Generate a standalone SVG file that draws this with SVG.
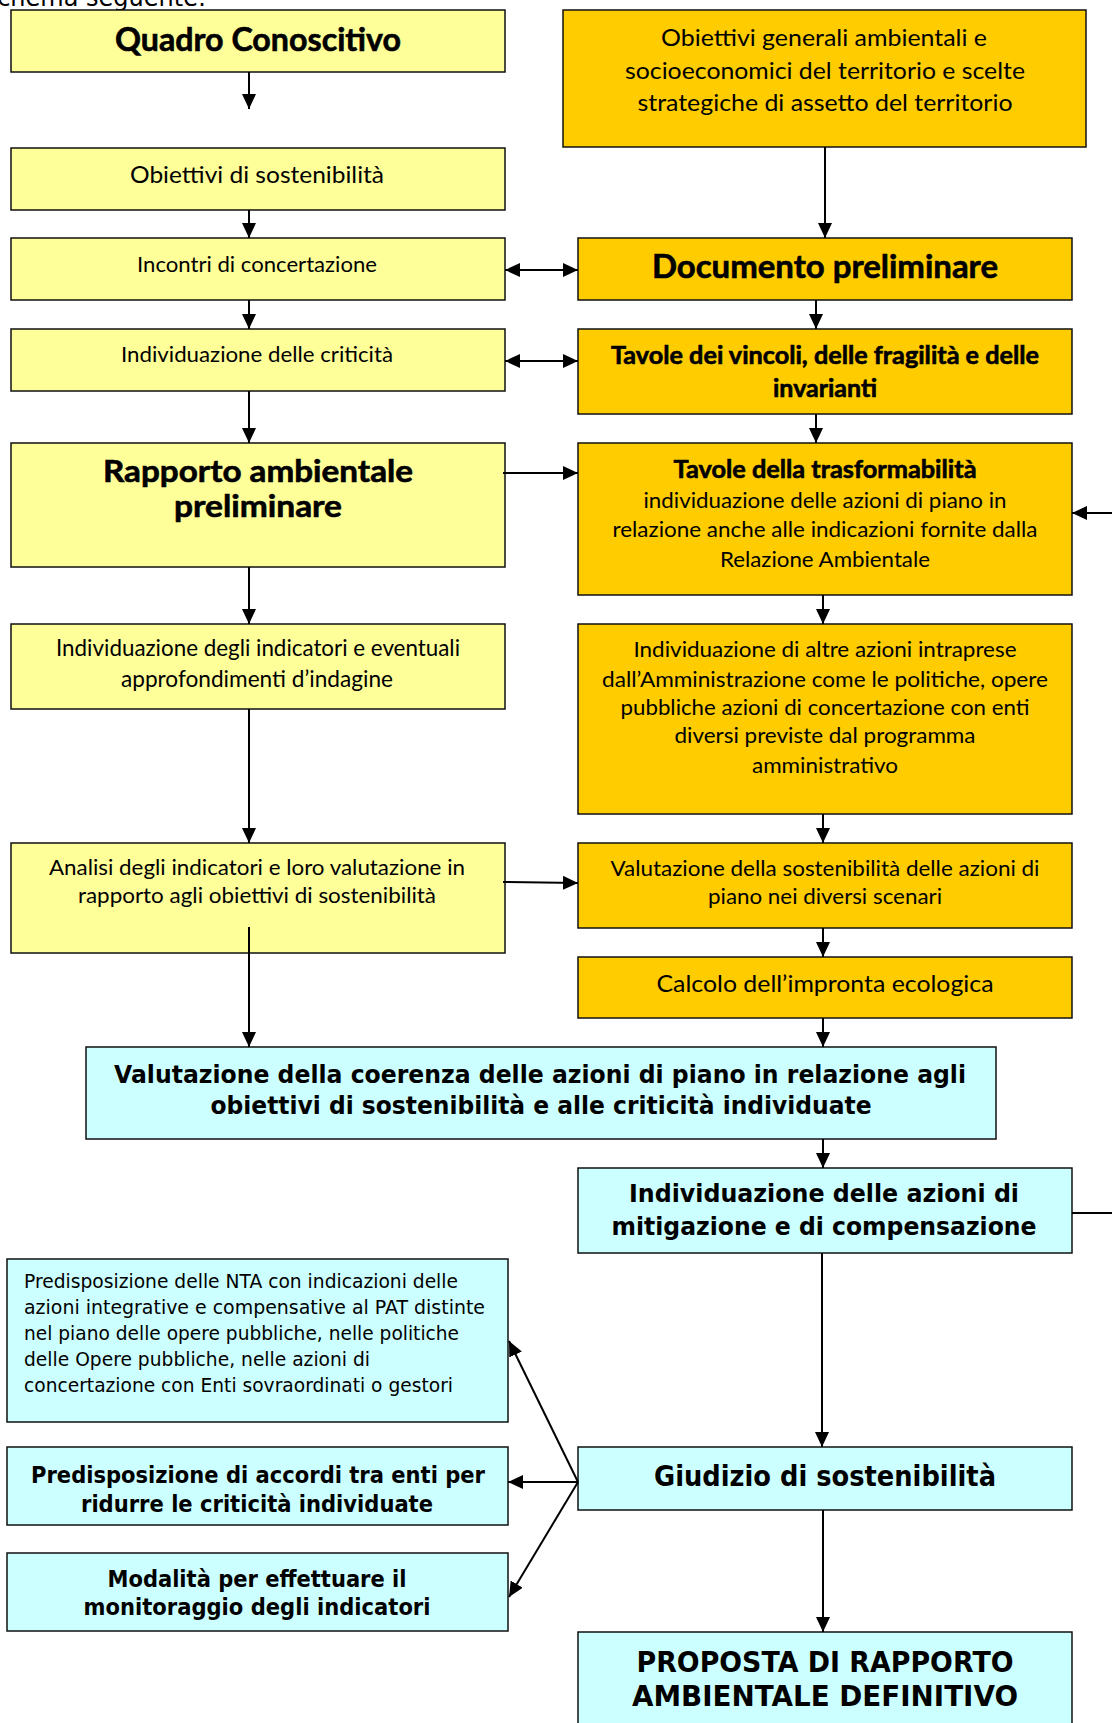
<svg xmlns="http://www.w3.org/2000/svg" width="1112" height="1723" viewBox="0 0 1112 1723">
<defs>
<marker id="ah" viewBox="0 0 15 14" refX="15" refY="7" markerWidth="15" markerHeight="14" markerUnits="userSpaceOnUse" orient="auto-start-reverse">
<path d="M0,0 L15,7 L0,14 z" fill="#000"/>
</marker>
<style>
.y{fill:#FFFF99;stroke:#111;stroke-width:1.5}
.o{fill:#FFCC00;stroke:#111;stroke-width:1.5}
.c{fill:#CCFFFF;stroke:#111;stroke-width:1.5}
.cal{font-family:Lato,"Liberation Sans",sans-serif;fill:#000;text-anchor:middle}
.calb{font-family:Lato,"Liberation Sans",sans-serif;font-weight:bold;fill:#000;stroke:#000;stroke-width:0.6;text-anchor:middle}
.tah{font-family:"DejaVu Sans","Liberation Sans",sans-serif;fill:#000}
.tahb{font-family:"DejaVu Sans","Liberation Sans",sans-serif;font-weight:bold;fill:#000;text-anchor:middle}
.ln{stroke:#000;stroke-width:2;fill:none}
.ar{stroke:#000;stroke-width:2;fill:none;marker-end:url(#ah)}
.ar2{stroke:#000;stroke-width:2;fill:none;marker-end:url(#ah);marker-start:url(#ah)}
</style>
</defs>
<rect width="1112" height="1723" fill="#fff"/>
<text x="206" y="6" class="tah" font-size="24" text-anchor="end">schema seguente:</text>

<g id="quadro"><rect class="y" x="11" y="10" width="494" height="62"/><text class="calb" x="258" y="51" font-size="32" textLength="286" lengthAdjust="spacingAndGlyphs">Quadro Conoscitivo</text></g>
<g id="obiettivi-sost"><rect class="y" x="11" y="148" width="494" height="62"/><text class="cal" x="257" y="183" font-size="23.5" textLength="254" lengthAdjust="spacingAndGlyphs">Obiettivi di sostenibilità</text></g>
<g id="incontri"><rect class="y" x="11" y="238" width="494" height="62"/><text class="cal" x="257" y="272" font-size="22" textLength="240" lengthAdjust="spacingAndGlyphs">Incontri di concertazione</text></g>
<g id="criticita"><rect class="y" x="11" y="329" width="494" height="62"/><text class="cal" x="257" y="362" font-size="22" textLength="272" lengthAdjust="spacingAndGlyphs">Individuazione delle criticità</text></g>
<g id="rapporto"><rect class="y" x="11" y="443" width="494" height="124"/><text class="calb" x="258" y="482" font-size="30" textLength="310" lengthAdjust="spacingAndGlyphs">Rapporto ambientale</text><text class="calb" x="258" y="517" font-size="30" textLength="168" lengthAdjust="spacingAndGlyphs">preliminare</text></g>
<g id="indicatori"><rect class="y" x="11" y="624" width="494" height="85"/><text class="cal" x="258" y="656" font-size="23" textLength="404" lengthAdjust="spacingAndGlyphs">Individuazione degli indicatori e eventuali</text><text class="cal" x="257" y="687" font-size="23" textLength="272" lengthAdjust="spacingAndGlyphs">approfondimenti d’indagine</text></g>
<g id="analisi"><rect class="y" x="11" y="843" width="494" height="110"/><text class="cal" x="257" y="875" font-size="22" textLength="416" lengthAdjust="spacingAndGlyphs">Analisi degli indicatori e loro valutazione in</text><text class="cal" x="257" y="903" font-size="22" textLength="358" lengthAdjust="spacingAndGlyphs">rapporto agli obiettivi di sostenibilità</text></g>

<g id="obiettivi-generali"><rect class="o" x="563" y="10" width="523" height="137"/><text class="cal" x="824" y="46" font-size="23.5" textLength="326" lengthAdjust="spacingAndGlyphs">Obiettivi generali ambientali e</text><text class="cal" x="825" y="79" font-size="23.5" textLength="400" lengthAdjust="spacingAndGlyphs">socioeconomici del territorio e scelte</text><text class="cal" x="825" y="111" font-size="23.5" textLength="375" lengthAdjust="spacingAndGlyphs">strategiche di assetto del territorio</text></g>
<g id="documento"><rect class="o" x="578" y="238" width="494" height="62"/><text class="calb" x="825" y="278" font-size="32" textLength="346" lengthAdjust="spacingAndGlyphs">Documento preliminare</text></g>
<g id="tavole-vincoli"><rect class="o" x="578" y="329" width="494" height="85"/><text class="calb" x="825" y="364" font-size="24" textLength="428" lengthAdjust="spacingAndGlyphs">Tavole dei vincoli, delle fragilità e delle</text><text class="calb" x="825" y="397" font-size="24" textLength="104" lengthAdjust="spacingAndGlyphs">invarianti</text></g>
<g id="tavole-trasf"><rect class="o" x="578" y="443" width="494" height="152"/><text class="calb" x="825" y="478" font-size="24" textLength="303" lengthAdjust="spacingAndGlyphs">Tavole della trasformabilità</text><text class="cal" x="825" y="508" font-size="22" textLength="363" lengthAdjust="spacingAndGlyphs">individuazione delle azioni di piano in</text><text class="cal" x="825" y="537" font-size="22" textLength="425" lengthAdjust="spacingAndGlyphs">relazione anche alle indicazioni fornite dalla</text><text class="cal" x="825" y="567" font-size="22" textLength="210" lengthAdjust="spacingAndGlyphs">Relazione Ambientale</text></g>
<g id="altre-azioni"><rect class="o" x="578" y="624" width="494" height="190"/><text class="cal" x="825" y="657" font-size="22" textLength="383" lengthAdjust="spacingAndGlyphs">Individuazione di altre azioni intraprese</text><text class="cal" x="825" y="687" font-size="22" textLength="446" lengthAdjust="spacingAndGlyphs">dall’Amministrazione come le politiche, opere</text><text class="cal" x="825" y="715" font-size="22" textLength="409" lengthAdjust="spacingAndGlyphs">pubbliche azioni di concertazione con enti</text><text class="cal" x="825" y="743" font-size="22" textLength="301" lengthAdjust="spacingAndGlyphs">diversi previste dal programma</text><text class="cal" x="825" y="773" font-size="22" textLength="146" lengthAdjust="spacingAndGlyphs">amministrativo</text></g>
<g id="valutazione-sost"><rect class="o" x="578" y="843" width="494" height="85"/><text class="cal" x="825" y="876" font-size="21.5" textLength="429" lengthAdjust="spacingAndGlyphs">Valutazione della sostenibilità delle azioni di</text><text class="cal" x="825" y="904" font-size="21.5" textLength="234" lengthAdjust="spacingAndGlyphs">piano nei diversi scenari</text></g>
<g id="calcolo"><rect class="o" x="578" y="957" width="494" height="61"/><text class="cal" x="825" y="992" font-size="24" textLength="337" lengthAdjust="spacingAndGlyphs">Calcolo dell’impronta ecologica</text></g>

<g id="coerenza"><rect class="c" x="86" y="1047" width="910" height="92"/><text class="tahb" x="540" y="1083" font-size="25" textLength="852" lengthAdjust="spacingAndGlyphs">Valutazione della coerenza delle azioni di piano in relazione agli</text><text class="tahb" x="541" y="1114" font-size="25" textLength="661" lengthAdjust="spacingAndGlyphs">obiettivi di sostenibilità e alle criticità individuate</text></g>
<g id="mitigazione"><rect class="c" x="578" y="1168" width="494" height="85"/><text class="tahb" x="824" y="1202" font-size="24" textLength="390" lengthAdjust="spacingAndGlyphs">Individuazione delle azioni di</text><text class="tahb" x="824" y="1235" font-size="24" textLength="425" lengthAdjust="spacingAndGlyphs">mitigazione e di compensazione</text></g>
<g id="giudizio"><rect class="c" x="578" y="1447" width="494" height="63"/><text class="tahb" x="825" y="1486" font-size="28" textLength="342" lengthAdjust="spacingAndGlyphs">Giudizio di sostenibilità</text></g>
<g id="proposta"><rect class="c" x="578" y="1632" width="494" height="110"/><text class="tahb" x="825" y="1672" font-size="28" textLength="377" lengthAdjust="spacingAndGlyphs">PROPOSTA DI RAPPORTO</text><text class="tahb" x="825" y="1706" font-size="28" textLength="386" lengthAdjust="spacingAndGlyphs">AMBIENTALE DEFINITIVO</text></g>
<g id="nta"><rect class="c" x="7" y="1259" width="501" height="163"/><text class="tah" x="24" y="1288" font-size="19" textLength="434" lengthAdjust="spacingAndGlyphs">Predisposizione delle NTA con indicazioni delle</text><text class="tah" x="24" y="1314" font-size="19" textLength="461" lengthAdjust="spacingAndGlyphs">azioni integrative e compensative al  PAT distinte</text><text class="tah" x="24" y="1340" font-size="19" textLength="435" lengthAdjust="spacingAndGlyphs">nel piano delle opere pubbliche, nelle politiche</text><text class="tah" x="24" y="1366" font-size="19" textLength="346" lengthAdjust="spacingAndGlyphs">delle Opere pubbliche, nelle azioni di</text><text class="tah" x="24" y="1392" font-size="19" textLength="429" lengthAdjust="spacingAndGlyphs">concertazione con Enti sovraordinati o gestori</text></g>
<g id="accordi"><rect class="c" x="7" y="1447" width="501" height="78"/><text class="tahb" x="258" y="1483" font-size="23" textLength="454" lengthAdjust="spacingAndGlyphs">Predisposizione di accordi tra enti per</text><text class="tahb" x="257" y="1512" font-size="23" textLength="352" lengthAdjust="spacingAndGlyphs">ridurre le criticità individuate</text></g>
<g id="modalita"><rect class="c" x="7" y="1553" width="501" height="78"/><text class="tahb" x="257" y="1587" font-size="23" textLength="299" lengthAdjust="spacingAndGlyphs">Modalità per effettuare il</text><text class="tahb" x="257" y="1615" font-size="23" textLength="347" lengthAdjust="spacingAndGlyphs">monitoraggio degli indicatori</text></g>

<g id="connectors">
<line class="ar" x1="249" y1="72" x2="249" y2="109"/>
<line class="ar" x1="249" y1="210" x2="249" y2="238"/>
<line class="ar" x1="249" y1="300" x2="249" y2="329"/>
<line class="ar" x1="249" y1="391" x2="249" y2="443"/>
<line class="ar" x1="249" y1="567" x2="249" y2="624"/>
<line class="ar" x1="249" y1="709" x2="249" y2="843"/>
<line class="ar" x1="249" y1="927" x2="249" y2="1047"/>
<line class="ar2" x1="505" y1="270" x2="578" y2="270"/>
<line class="ar2" x1="505" y1="361" x2="578" y2="361"/>
<line class="ar" x1="503" y1="473" x2="578" y2="473"/>
<line class="ar" x1="503" y1="882" x2="578" y2="883"/>
<line class="ar" x1="825" y1="147" x2="825" y2="238"/>
<line class="ar" x1="816" y1="300" x2="816" y2="329"/>
<line class="ar" x1="816" y1="414" x2="816" y2="443"/>
<line class="ar" x1="823" y1="595" x2="823" y2="624"/>
<line class="ar" x1="823" y1="814" x2="823" y2="843"/>
<line class="ar" x1="823" y1="928" x2="823" y2="957"/>
<line class="ar" x1="823" y1="1018" x2="823" y2="1047"/>
<line class="ar" x1="823" y1="1139" x2="823" y2="1168"/>
<line class="ar" x1="822" y1="1253" x2="822" y2="1447"/>
<line class="ar" x1="823" y1="1510" x2="823" y2="1632"/>
<line class="ar" x1="1112" y1="513" x2="1072" y2="513"/>
<line class="ln" x1="1072" y1="1213" x2="1112" y2="1213"/>
<line class="ar" x1="578" y1="1482" x2="509" y2="1341"/>
<line class="ar" x1="578" y1="1482" x2="508" y2="1482"/>
<line class="ar" x1="578" y1="1482" x2="509" y2="1597"/>
</g>
</svg>
